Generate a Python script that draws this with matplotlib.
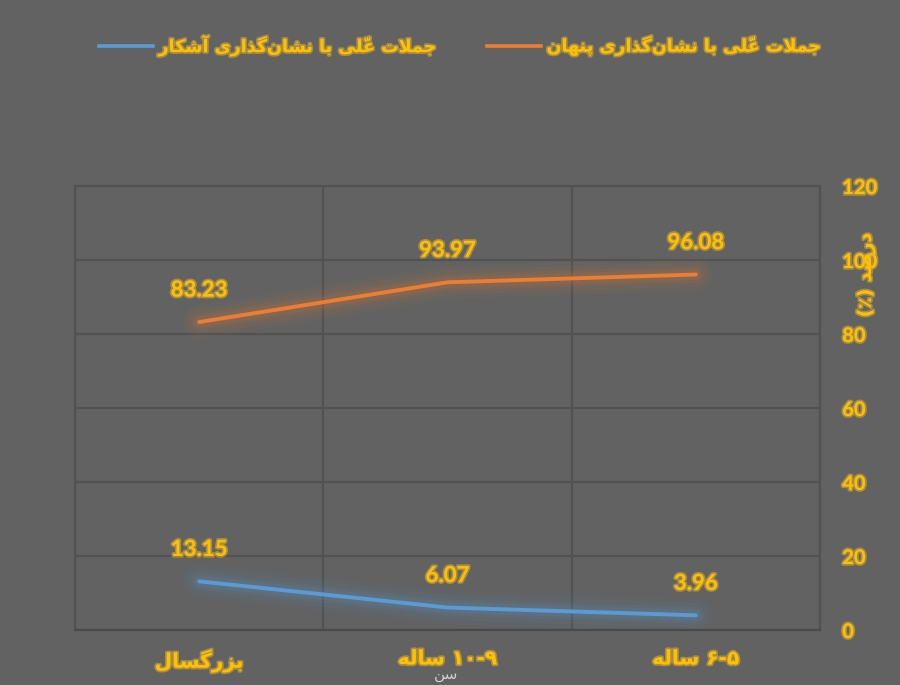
import unicodedata
import matplotlib
matplotlib.use("Agg")
import matplotlib.pyplot as plt
import matplotlib.patheffects as pe
from matplotlib.lines import Line2D

# ---------------- data ----------------
categories = ["۵-۶ ساله", "۹-۱۰ ساله", "بزرگسال"]
hidden_vals = [96.08, 93.97, 83.23]     # جملات علّی با نشان‌گذاری پنهان
explicit_vals = [3.96, 6.07, 13.15]     # جملات علّی با نشان‌گذاری آشکار
series_names = ["جملات علّی با نشان‌گذاری پنهان", "جملات علّی با نشان‌گذاری آشکار"]
y_ticks = [0, 20, 40, 60, 80, 100, 120]
y_title = "درصد (٪)"
x_title = "سن"

# ------------- minimal Persian shaping (matplotlib has no CTL) -------------
FORMS = {
    'ا': ('\uFE8D', '\uFE8E', None, None), 'آ': ('\uFE81', '\uFE82', None, None),
    'ب': ('\uFE8F', '\uFE90', '\uFE91', '\uFE92'), 'پ': ('\uFB56', '\uFB57', '\uFB58', '\uFB59'),
    'ت': ('\uFE95', '\uFE96', '\uFE97', '\uFE98'), 'ج': ('\uFE9D', '\uFE9E', '\uFE9F', '\uFEA0'),
    'د': ('\uFEA9', '\uFEAA', None, None), 'ذ': ('\uFEAB', '\uFEAC', None, None),
    'ر': ('\uFEAD', '\uFEAE', None, None), 'ز': ('\uFEAF', '\uFEB0', None, None),
    'س': ('\uFEB1', '\uFEB2', '\uFEB3', '\uFEB4'), 'ش': ('\uFEB5', '\uFEB6', '\uFEB7', '\uFEB8'),
    'ص': ('\uFEB9', '\uFEBA', '\uFEBB', '\uFEBC'), 'ع': ('\uFEC9', '\uFECA', '\uFECB', '\uFECC'),
    'ک': ('\uFB8E', '\uFB8F', '\uFB90', '\uFB91'), 'گ': ('\uFB92', '\uFB93', '\uFB94', '\uFB95'),
    'ل': ('\uFEDD', '\uFEDE', '\uFEDF', '\uFEE0'), 'م': ('\uFEE1', '\uFEE2', '\uFEE3', '\uFEE4'),
    'ن': ('\uFEE5', '\uFEE6', '\uFEE7', '\uFEE8'), 'ه': ('\uFEE9', '\uFEEA', '\uFEEB', '\uFEEC'),
    'ی': ('\uFBFC', '\uFBFD', '\uFBFE', '\uFBFF'),
}
LAMALEF = {'ا': ('\uFEFB', '\uFEFC'), 'آ': ('\uFEF5', '\uFEF6')}
DIGITS = set("0123456789۰۱۲۳۴۵۶۷۸۹.")
MIRROR = {'(': ')', ')': '('}


def is_mark(c):
    return unicodedata.category(c) == 'Mn'


def dual(c):
    return c in FORMS and FORMS[c][2] is not None


def fa(s):
    chars = list(s)
    n = len(chars)
    out = []
    i = 0
    prev_joins = False
    while i < n:
        c = chars[i]
        if is_mark(c):
            out.append(c)
            i += 1
            continue
        j = i + 1
        while j < n and is_mark(chars[j]):
            j += 1
        nxt = chars[j] if j < n else None
        if c == 'ل' and nxt in LAMALEF:
            out.append(LAMALEF[nxt][1 if prev_joins else 0])
            out.extend(chars[i + 1:j])
            i = j + 1
            prev_joins = False
            continue
        if c in FORMS:
            jn = dual(c) and nxt in FORMS
            if prev_joins and jn:
                f = FORMS[c][3]
            elif prev_joins:
                f = FORMS[c][1]
            elif jn:
                f = FORMS[c][2]
            else:
                f = FORMS[c][0]
            out.append(f)
            prev_joins = jn
        else:
            if c != '\u200c':
                out.append(c)
            prev_joins = False
        i += 1
    clusters = []
    for c in out:
        if is_mark(c) and clusters:
            clusters[-1] += c
        else:
            clusters.append(c)
    tokens = []
    for cl in clusters:
        if cl[0] in DIGITS and tokens and tokens[-1][0] in DIGITS:
            tokens[-1] += cl
        else:
            tokens.append(cl)
    tokens.reverse()
    return ''.join(MIRROR.get(t, t) for t in tokens)


# ---------------- style ----------------
BG = "#626262"
GRID = "#525252"
GOLD = "#FFC000"
ORANGE = "#ED7D31"
BLUE = "#5B9BD5"
AR_FONT = ["DejaVu Sans"]
NUM_FONT = ["Lato", "DejaVu Sans"]
GLOW = [pe.withStroke(linewidth=2.5, foreground="#e0b030", alpha=0.55)]

fig = plt.figure(figsize=(9, 6.85), dpi=100, facecolor=BG)
ax = fig.add_axes([75 / 900, 1 - 630 / 685, (820 - 75) / 900, (630 - 186) / 685])
ax.set_facecolor(BG)

x = list(range(len(categories)))
ax.set_xlim(-0.5, len(categories) - 0.5)
ax.invert_xaxis()
ax.set_ylim(0, 120)

# grid
ax.set_yticks(y_ticks)
ax.set_xticks(x)
ax.set_xticks([v - 0.5 for v in x] + [len(x) - 0.5], minor=True)
ax.grid(True, axis='y', which='major', color=GRID, lw=1.6)
ax.grid(True, axis='x', which='minor', color=GRID, lw=1.6)
ax.set_axisbelow(True)
for sp in ax.spines.values():
    sp.set_color(GRID)
    sp.set_linewidth(1.6)
ax.spines['bottom'].set_color("#4a4a4a")

ax.yaxis.tick_right()
ax.tick_params(axis='y', which='both', length=0, pad=16)
ax.tick_params(axis='x', which='both', length=0, pad=14)
ax.set_yticklabels([str(v) for v in y_ticks], fontsize=14.5, fontweight='bold',
                   color=GOLD, family=NUM_FONT)
for lab in ax.get_yticklabels():
    lab.set_horizontalalignment('left')
    lab.set_path_effects(GLOW)
ax.set_xticklabels([fa(c) for c in categories], fontsize=14.5, fontweight='bold',
                   color=GOLD, family=AR_FONT)
for lab in ax.get_xticklabels():
    lab.set_path_effects(GLOW)

# lines with soft glow
for vals, col in ((hidden_vals, ORANGE), (explicit_vals, BLUE)):
    for w, a in ((24, 0.045), (18, 0.06), (12, 0.08), (8, 0.11)):
        ax.plot(x, vals, color=col, lw=w, alpha=a, solid_capstyle='round', zorder=2)
    ax.plot(x, vals, color=col, lw=2.8, solid_capstyle='round', zorder=3)
    for xi, v in zip(x, vals):
        ax.annotate(f"{v:.2f}", (xi, v), xytext=(0, 23), textcoords='offset points',
                    ha='center', va='center', fontsize=16, fontweight='bold',
                    color=GOLD, family=NUM_FONT, zorder=4, path_effects=GLOW)

# legend entries (blue on the left, orange on the right)
entries = [(BLUE, series_names[1], 99), (ORANGE, series_names[0], 487)]
for col, name, px in entries:
    leg = fig.legend([Line2D([], [], color=col, lw=2.6)], [fa(name)],
                     loc='center left', bbox_to_anchor=(px / 900, 1 - 46 / 685),
                     frameon=False, borderpad=0, borderaxespad=0,
                     handlelength=3.1, handletextpad=0.3,
                     prop={'family': AR_FONT, 'weight': 'bold', 'size': 12.6})
    for t in leg.get_texts():
        t.set_color(GOLD)
        t.set_path_effects(GLOW)

# axis titles
fig.text(866 / 900, 1 - 275 / 685, fa(y_title), rotation=90, ha='center', va='center',
         fontsize=13.5, fontweight='bold', color=GOLD, family=AR_FONT, path_effects=GLOW)
fig.text(446 / 900, 1 - 675 / 685, fa(x_title), ha='center', va='center',
         fontsize=11, color="#d0d0d0", family=AR_FONT)

fig.savefig("out.png", dpi=100, facecolor=BG)
